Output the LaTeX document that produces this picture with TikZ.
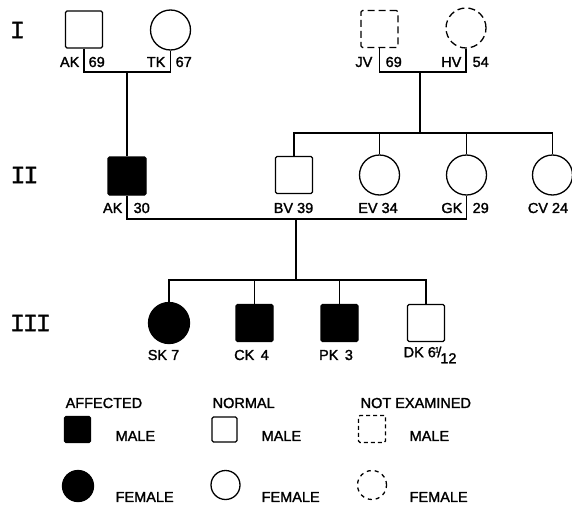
\documentclass[tikz,border=0pt]{standalone}
\usepackage{fontspec}
\setmainfont{Liberation Sans}
\newfontfamily\lblfont{Liberation Sans}[FakeBold=1.6]
\newfontfamily\genfont{Liberation Mono}[FakeBold=1.2]
\usepackage{tikz}
\usetikzlibrary{calc}

\begin{document}
\begin{tikzpicture}[x=1pt,y=-1pt,line width=1.3pt,
    male/.style={draw,rectangle,rounded corners=1.5pt,minimum size=37pt,inner sep=0pt},
    female/.style={draw,circle,minimum size=40pt,inner sep=0pt},
    affected/.style={fill=black},
    notexam/.style={dash pattern=on 7pt off 4pt},
    lbl/.style={font=\lblfont\fontsize{14.5}{16}\selectfont,inner sep=0pt},
    gen/.style={font=\genfont\fontsize{25}{25}\selectfont,inner sep=0pt}]
    \useasboundingbox (0,0) rectangle (572,506);

    % generations
    \node[gen] (genI) at (17.5,30) {I};
    \node[gen] (genII) at (24.5,175) {I\kern-2pt I};
    \node[gen] (genIII) at (30.5,323) {I\kern-2pt I\kern-2pt I};

    % generation I
    \node[male] (AKi) at (84,29.5) {};
    \node[female] (TKi) at (170.5,30) {};
    \node[male,notexam] (JVi) at (379.5,29) {};
    \node[female,notexam] (HVi) at (466,28) {};
    \node[lbl,anchor=east] (AKin) at (80,62) {AK};
    \node[lbl,anchor=west] (AKia) at (88,62) {69};
    \node[lbl,anchor=east] (TKin) at (166,62) {TK};
    \node[lbl,anchor=west] (TKia) at (175,62) {67};
    \node[lbl,anchor=east] (JVin) at (373,62) {JV};
    \node[lbl,anchor=west] (JVia) at (385,62) {69};
    \node[lbl,anchor=east] (HVin) at (462,62) {HV};
    \node[lbl,anchor=west] (HVia) at (472,62) {54};
    \coordinate (m1) at (127,72);
    \coordinate (m2) at (420,72);
    \draw (AKi) -- (AKi |- m1) -- (TKi |- m1) -- (TKi);
    \draw (JVi) -- (JVi |- m2) -- (HVi |- m2) -- (HVi);

    % generation II
    \node[male,affected,minimum size=38pt] (AKii) at (127,176) {};
    \node[male] (BVii) at (294,175) {};
    \node[female] (EVii) at (379.5,175) {};
    \node[female] (GKii) at (466.5,175) {};
    \node[female] (CVii) at (552.5,175) {};
    \node[lbl,anchor=east] (AKiin) at (123,208) {AK};
    \node[lbl,anchor=west] (AKiia) at (133,208) {30};
    \node[lbl] (BViil) at (293.5,208) {BV 39};
    \node[lbl] (EViil) at (378,208) {EV 34};
    \node[lbl,anchor=east] (GKiin) at (463,208) {GK};
    \node[lbl,anchor=west] (GKiia) at (472,208) {29};
    \node[lbl] (CViil) at (548,208) {CV 24};
    \coordinate (s2) at (420,133);
    \coordinate (m3) at (296,219);
    \draw (m1) -- (AKii);
    \draw (m2) -- (s2);
    \draw (BVii) -- (BVii |- s2) -- (CVii |- s2) -- (CVii);
    \draw (EVii) -- (EVii |- s2);
    \draw (GKii) -- (GKii |- s2);
    \draw (AKii) -- (AKii |- m3) -- (GKii |- m3) -- (GKii);

    % generation III
    \node[female,affected,minimum size=41pt] (SKiii) at (169,323) {};
    \node[male,affected] (CKiii) at (254.5,323) {};
    \node[male,affected] (PKiii) at (339.5,323) {};
    \node[male] (DKiii) at (426,323) {};
    \node[lbl] (SKiiil) at (163.5,355) {SK 7};
    \node[lbl] (CKiiil) at (251.5,355) {CK \,4};
    \node[lbl] (PKiiil) at (336,355) {PK \,3};
    \node[lbl,anchor=west] (DKiiil) at (403,355) {DK 6\kern-1pt\raisebox{0.6ex}{\fontsize{8}{8}\selectfont 1}\kern-2pt/\kern-1pt\raisebox{-0.8ex}{12}};
    \coordinate (s3) at (296,280);
    \draw (m3) -- (s3);
    \draw (SKiii) -- (SKiii |- s3) -- (DKiii |- s3) -- (DKiii);
    \draw (CKiii) -- (CKiii |- s3);
    \draw (PKiii) -- (PKiii |- s3);

    % key
    \node[lbl,anchor=west] (kaff) at (65,403) {AFFECTED};
    \node[lbl,anchor=west] (knor) at (212,403) {NORMAL};
    \node[lbl,anchor=west] (knex) at (360,403) {NOT EXAMINED};
    \node[male,affected,minimum size=26pt] (kaffm) at (77.5,429.5) {};
    \node[male,minimum size=25pt] (knorm) at (224.5,429.5) {};
    \node[male,minimum size=27pt,dash pattern=on 4pt off 3pt] (knexm) at (372,429) {};
    \node[female,affected,minimum size=31pt] (kafff) at (78,486) {};
    \node[female,minimum size=29pt] (knorf) at (225.5,485) {};
    \node[female,minimum size=29pt,dash pattern=on 4pt off 4pt] (knexf) at (372,485) {};
    \node[lbl,anchor=west] (kaffml) at (115,436) {MALE};
    \node[lbl,anchor=west] (knorml) at (261,436) {MALE};
    \node[lbl,anchor=west] (knexml) at (409,436) {MALE};
    \node[lbl,anchor=west] (kafffl) at (115,497) {FEMALE};
    \node[lbl,anchor=west] (knorfl) at (261,497) {FEMALE};
    \node[lbl,anchor=west] (knexfl) at (409,497) {FEMALE};
\end{tikzpicture}
\end{document}
